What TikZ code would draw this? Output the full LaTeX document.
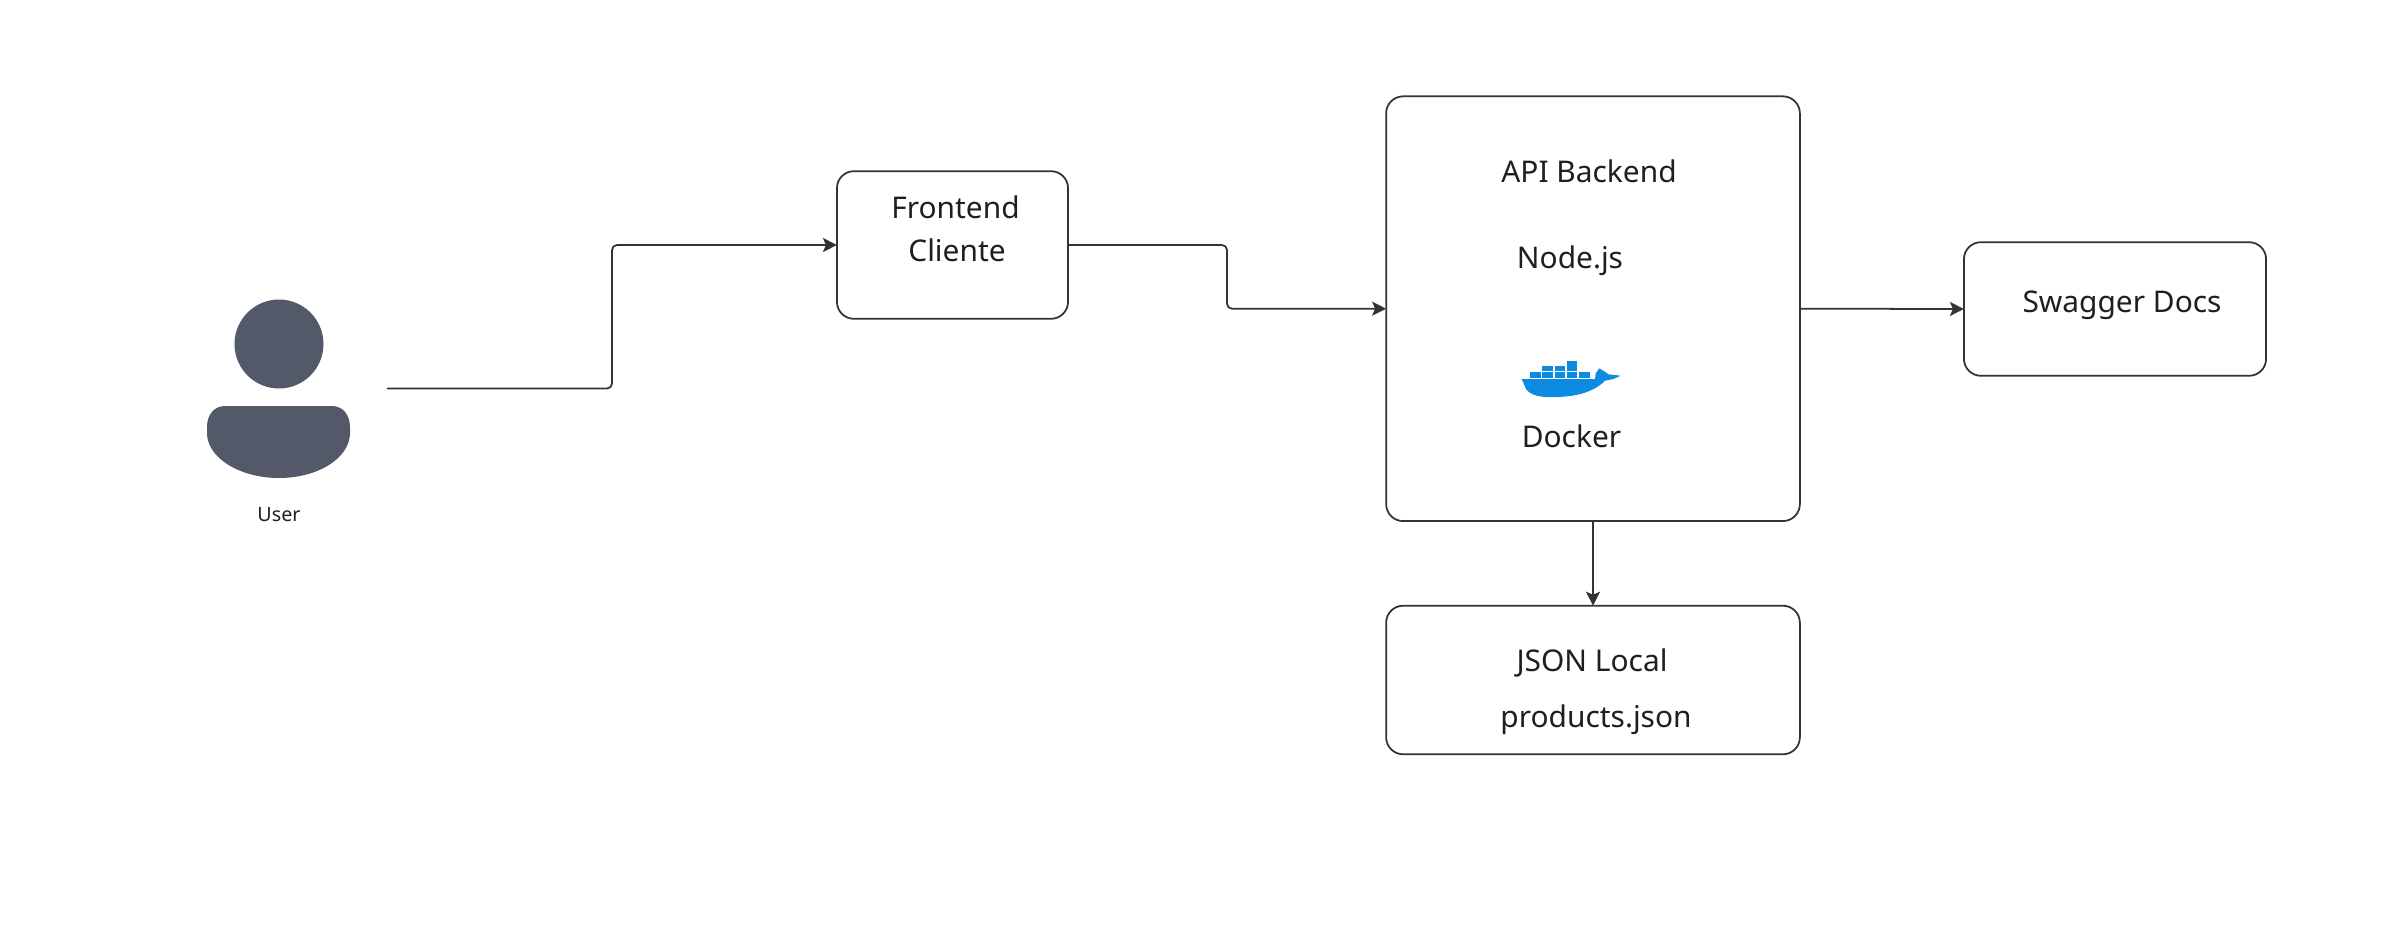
\documentclass[tikz,border=0pt]{standalone}
\usepackage{fontspec}
\setmainfont{Noto Sans}
\usetikzlibrary{arrows.meta}
\definecolor{linegray}{HTML}{333333}
\definecolor{textgray}{HTML}{1F1F1F}
\definecolor{usergray}{HTML}{545969}
\definecolor{whaleblue}{HTML}{0D8BE0}
\tikzset{
  boxnode/.style={draw=linegray, line width=0.5pt, rounded corners=0.17cm, outer sep=0pt, inner sep=0pt},
  txt/.style={text=textgray, font=\fontsize{8.5}{10}\selectfont, inner sep=0pt},
  link/.style={draw=linegray, line width=0.5pt, rounded corners=0.05cm, -{Stealth[length=1.4mm,width=1.4mm,inset=0.3mm]}},
  crate/.style={fill=whaleblue, draw=none}
}

\begin{document}
\begin{tikzpicture}[x=0.01cm, y=-0.01cm, line cap=round, line join=round]

% Fix the page to the size of the picture
\useasboundingbox (0,0) rectangle (2402,936);

% Boxes
\node[boxnode, minimum width=2.31cm, minimum height=1.475cm] (front) at (952.5,245) {};
\node[boxnode, minimum width=4.135cm, minimum height=4.245cm] (api) at (1593,308.7) {};
\node[boxnode, minimum width=3.02cm, minimum height=1.335cm] (swagger) at (2115,309) {};
\node[boxnode, minimum width=4.135cm, minimum height=1.485cm] (json) at (1593,680) {};

% Box labels
\node[txt] (frontA) at (955.5,207) {Frontend};
\node[txt] (frontB) at (957,250.5) {Cliente};
\node[txt] (apiA) at (1589,171.6) {API Backend};
\node[txt] (apiB) at (1570,261) {Node.js};
\node[txt] (apiC) at (1571.5,436.6) {Docker};
\node[txt] (swaggerA) at (2122,305) {Swagger Docs};
\node[txt] (jsonA) at (1592,663) {JSON Local};
\node[txt] (jsonB) at (1596,720) {products.json};

% User icon
\fill[usergray] (279,344) circle (44.5);
\fill[usergray] (225,406) -- (332,406)
  .. controls (343,406) and (350,415) .. (350,427) -- (350,433)
  .. controls (350,458) and (318,478) .. (279,478)
  .. controls (240,478) and (207,458) .. (207,433) -- (207,427)
  .. controls (207,415) and (214,406) .. (225,406) -- cycle;
\node[text=textgray, font=\fontsize{5.6}{7}\selectfont, inner sep=0pt] (user) at (279,515) {User};

% Docker whale
\fill[whaleblue] (1521.7,379) -- (1595,379) -- (1595.7,373.3) -- (1599.3,368.3)
  -- (1605,371.7) -- (1608.3,374.3) -- (1620.7,375.7) -- (1613.3,379) -- (1605,380.7)
  .. controls (1598,388) and (1585,395) .. (1565,396.5)
  .. controls (1550,398) and (1532,398) .. (1526,389) -- cycle;
\foreach \xpos in {1530,1542,1554.5,1566.5,1579}
  \fill[crate] (\xpos,372) rectangle ++(10.5,5.5);
\foreach \xpos in {1542,1554.5,1566.5}
  \fill[crate] (\xpos,366.2) rectangle ++(10.5,5.2);
\fill[crate] (1566.5,360.8) rectangle ++(10.5,5.2);

% Bends of the connectors
\coordinate (U) at (387.6,388.5);
\coordinate (K1) at (612,388.5);
\coordinate (K2) at (K1 |- front.west);
\coordinate (K3) at (1227,245);
\coordinate (K4) at (K3 |- api.west);

% Connectors
\draw[link] (U) -- (K1) -- (K2) -- (front.west);
\draw[link] (front.east |- K3) -- (K3) -- (K4) -- (api.west);
\draw[link] (api.east) -- (swagger.west);
\draw[link] (api.south) -- (json.north);

\end{tikzpicture}
\end{document}
